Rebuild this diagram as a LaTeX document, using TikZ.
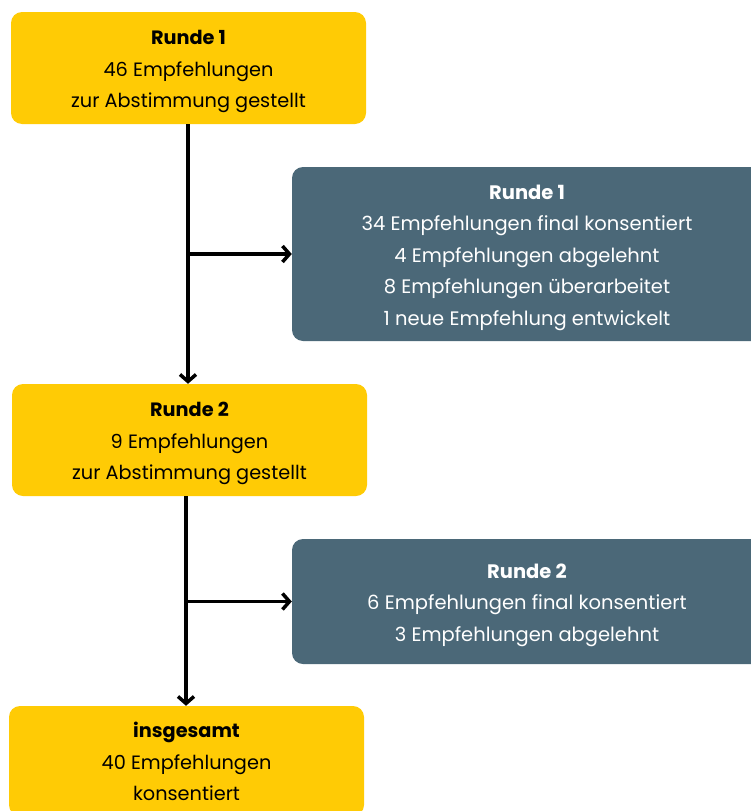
\documentclass[tikz,border=0pt]{standalone}
\usepackage{fontspec}
\setmainfont{Poppins}
\usetikzlibrary{arrows.meta}
\definecolor{ylw}{RGB}{255,203,5}
\definecolor{slate}{RGB}{75,104,120}
\newcommand{\boxtext}[1]{\raisebox{-2pt}[\height][\depth]{\begin{tabular}{@{}c@{}}#1\end{tabular}}}
\tikzset{
  ybox/.style={fill=ylw, rounded corners=11pt, minimum width=355pt, align=center, text=black, inner sep=0pt, font=\fontsize{19.3}{31.5}\selectfont},
  gbox/.style={fill=slate, rounded corners=11pt, minimum width=470pt, align=center, text=white, inner sep=0pt, font=\fontsize{19.5}{31.5}\selectfont},
  arr/.style={draw=black, line width=3.5pt, -{Straight Barb[length=7pt,width=16pt,line width=3.5pt]}}
}
\begin{document}
\begin{tikzpicture}[x=1pt,y=-1pt]
\useasboundingbox (0,0) rectangle (751,811);
\clip (0,0) rectangle (751,811);
\node[ybox, minimum height=112pt] (r1) at (188.5,68) {\boxtext{\textbf{Runde 1}\\46 Empfehlungen\\zur Abstimmung gestellt}};
\node[gbox, minimum height=174pt] (g1) at (527,254) {\boxtext{\textbf{Runde 1}\\34 Empfehlungen final konsentiert\\4 Empfehlungen abgelehnt\\8 Empfehlungen überarbeitet\\1 neue Empfehlung entwickelt}};
\node[ybox, minimum height=112pt] (r2) at (189.5,440) {\boxtext{\textbf{Runde 2}\\9 Empfehlungen\\zur Abstimmung gestellt}};
\node[gbox, minimum height=125pt] (g2) at (527,601.5) {\boxtext{\textbf{Runde 2}\\6 Empfehlungen final konsentiert\\3 Empfehlungen abgelehnt}};
\node[ybox, minimum height=110pt] (r3) at (186.5,761) {\boxtext{\textbf{insgesamt}\\40 Empfehlungen\\konsentiert}};
\coordinate (t1) at ([xshift=-0.5pt]r1.south);
\coordinate (t2) at ([xshift=-3.5pt]r2.south);
\draw[arr] (t1) -- (t1 |- r2.north);
\draw[arr] (t1 |- g1.west) -- (g1.west);
\draw[arr] (t2) -- (t2 |- r3.north);
\draw[arr] (t2 |- g2.west) -- (g2.west);
\end{tikzpicture}
\end{document}
